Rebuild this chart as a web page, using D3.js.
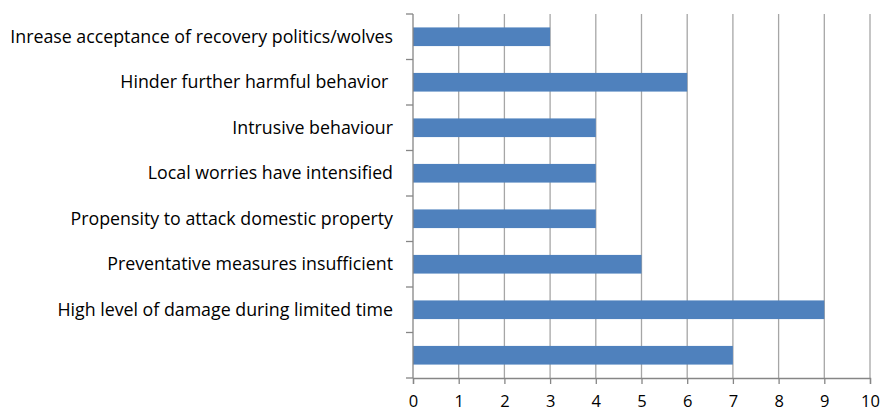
<!DOCTYPE html>
<html><head><meta charset="utf-8">
<script src="https://cdn.jsdelivr.net/npm/d3@7"></script>
<style>body{margin:0;background:#fff}svg{display:block}</style>
</head><body>
<svg id="c" width="882" height="412"></svg>
<script>
const categories = ["Inrease acceptance of recovery politics/wolves","Hinder further harmful behavior ","Intrusive behaviour","Local worries have intensified","Propensity to attack domestic property","Preventative measures insufficient","High level of damage during limited time",""];
const values = [3,6,4,4,4,5,9,7];
const xTicks = [0,1,2,3,4,5,6,7,8,9,10];

(function(){
const svg = d3.select("#c");
const mLeft = 413, mRight = 870, mTop = 14, mBottom = 378;
const font = "'Open Sans', sans-serif";
const x = d3.scaleLinear().domain([0,10]).range([mLeft,mRight]);
const y = d3.scaleBand().domain(d3.range(categories.length)).range([mTop,mBottom]).paddingInner(0.59).paddingOuter(0.295);

svg.append("g").selectAll("line").data(xTicks.slice(1)).join("line")
  .attr("x1",d=>x(d)).attr("x2",d=>x(d)).attr("y1",mTop).attr("y2",mBottom)
  .attr("stroke","#a6a6a6").attr("stroke-width",1.3);

svg.append("g").selectAll("rect").data(values).join("rect")
  .attr("x",x(0)).attr("y",(d,i)=>y(i)).attr("width",d=>x(d)-x(0)).attr("height",y.bandwidth())
  .attr("fill","#4f81bd");

const xa = svg.append("g").attr("transform",`translate(0,${mBottom})`)
  .call(d3.axisBottom(x).tickValues(xTicks).tickSize(6).tickPadding(11).tickFormat(d3.format("d")));
xa.select(".domain").attr("stroke","#868686").attr("stroke-width",1.3);
xa.selectAll(".tick line").attr("stroke","#868686").attr("stroke-width",1.3);
xa.selectAll("text").attr("font-family",font).attr("font-size",16.5).attr("fill","#000");

const bounds = d3.range(categories.length+1).map(i=>mTop+i*(mBottom-mTop)/categories.length);
svg.append("line").attr("x1",mLeft).attr("x2",mLeft).attr("y1",mTop).attr("y2",mBottom).attr("stroke","#868686").attr("stroke-width",1.3);
svg.append("g").selectAll("line").data(bounds).join("line")
  .attr("x1",mLeft-7).attr("x2",mLeft).attr("y1",d=>d).attr("y2",d=>d).attr("stroke","#868686").attr("stroke-width",1.3);
svg.append("g").selectAll("text").data(categories).join("text")
  .attr("x",mLeft-20).attr("y",(d,i)=>y(i)+y.bandwidth()/2).attr("dy","0.35em")
  .attr("text-anchor","end").attr("font-family",font).attr("font-size",17.8).attr("fill","#000")
  .style("white-space","pre").text(d=>d);
})();
</script>
</body></html>
